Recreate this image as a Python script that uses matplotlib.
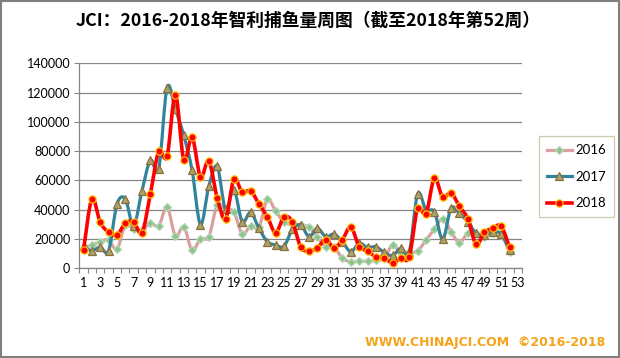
import matplotlib
matplotlib.use("Agg")
import matplotlib.pyplot as plt
from matplotlib.path import Path
from matplotlib.patches import PathPatch, Rectangle
from matplotlib.lines import Line2D
import numpy as np

plt.rcParams['font.family'] = ['Lato', 'Noto Sans CJK SC', 'DejaVu Sans']

title = "JCI：2016-2018年智利捕鱼量周图（截至2018年第52周）"
footer = "WWW.CHINAJCI.COM  ©2016-2018"
series_names = ["2016", "2017", "2018"]

weeks = list(range(1, 53))
y2016 = [14000, 16000, 18000, 19500, 13000, 29500, 26500, 26000, 30700, 29000,
         41800, 22000, 28400, 12300, 20300, 21400, 43000, 40000, 38500, 23500,
         28900, 28000, 47000, 39000, 31500, 30000, 29600, 28000, 21600, 14300,
         14300, 6800, 4400, 4800, 4800, 5500, 6800, 15900, 10600, 11000,
         11800, 19300, 26600, 34000, 25000, 17500, 23900, 23900, 21600, 23900,
         22700, 11300]
y2017 = [15000, 12000, 14500, 12000, 43700, 47300, 29100, 53000, 73700, 67800,
         123400, 108500, 90700, 66800, 29800, 56000, 69600, 40200, 53600, 31800,
         38200, 27300, 18200, 15900, 15000, 26500, 29600, 21600, 27300, 21600,
         23300, 18000, 11300, 17100, 14200, 14700, 10800, 8800, 13700, 11300,
         50700, 39800, 38600, 19800, 41000, 37500, 31800, 23900, 22700, 25000,
         23400, 12500]
y2018 = [12500, 47300, 31400, 24600, 22700, 30700, 31800, 24300, 50700, 80000,
         76500, 118600, 74100, 89400, 62500, 73300, 48100, 33700, 60800, 51900,
         53000, 43900, 35200, 24300, 35000, 31800, 14500, 11800, 14000, 19600,
         14000, 19500, 28200, 14800, 11900, 7700, 7100, 3600, 6800, 7900,
         41000, 37100, 61400, 48500, 51600, 42300, 33900, 16400, 24600, 27300,
         28900, 14300]

xtick_positions = list(range(1, 54, 2))
xtick_labels = [str(v) for v in xtick_positions]
ytick_values = [0, 20000, 40000, 60000, 80000, 100000, 120000, 140000]
ytick_labels = [str(v) for v in ytick_values]


def smooth_path(xs, ys):
    pts = np.column_stack([xs, ys]).astype(float)
    n = len(pts)
    verts = [tuple(pts[0])]
    codes = [Path.MOVETO]
    for i in range(n - 1):
        p0 = pts[max(i - 1, 0)]
        p1 = pts[i]
        p2 = pts[i + 1]
        p3 = pts[min(i + 2, n - 1)]
        c1 = p1 + (p2 - p0) / 6.0
        c2 = p2 - (p3 - p1) / 6.0
        verts += [tuple(c1), tuple(c2), tuple(p2)]
        codes += [Path.CURVE4] * 3
    return Path(verts, codes)


fig = plt.figure(figsize=(6.2, 3.58), dpi=100)
fig.patch.set_facecolor("white")
ax = fig.add_axes([0.128, 0.2506, 0.714, 0.5726])

styles = [
    dict(line="#D9A0A0", marker="D", mfc="#8CC38C", mec="#B5D9B5", ms=4.2, z=2, lw=2.3),
    dict(line="#31849B", marker="^", mfc="#A8A46A", mec="#8C6E3C", ms=5.2, z=3, lw=2.3),
    dict(line="#FF0000", marker="o", mfc="#FF0000", mec="#FFC000", ms=5.2, z=4, lw=2.6),
]
data = [y2016, y2017, y2018]
handles = []
for name, ys, st in zip(series_names, data, styles):
    patch = PathPatch(smooth_path(weeks, ys), fill=False, edgecolor=st["line"],
                      lw=st["lw"], capstyle="round", joinstyle="round", zorder=st["z"])
    ax.add_patch(patch)
    ax.plot(weeks, ys, linestyle="none", marker=st["marker"], ms=st["ms"],
            mfc=st["mfc"], mec=st["mec"], mew=0.9, zorder=st["z"] + 0.5)
    handles.append(Line2D([0], [0], color=st["line"], lw=st["lw"], marker=st["marker"],
                          ms=st["ms"], mfc=st["mfc"], mec=st["mec"], mew=0.9))

ax.set_xlim(0.5, 53.5)
ax.set_ylim(0, 140000)
ax.set_yticks(ytick_values)
ax.set_yticklabels(ytick_labels)
ax.set_xticks(xtick_positions)
ax.set_xticklabels(xtick_labels)
ax.set_xticks(np.arange(0.5, 54.0, 1.0), minor=True)
ax.tick_params(axis="x", which="major", length=0, pad=6, labelsize=9, colors="black")
ax.tick_params(axis="x", which="minor", length=3.5, color="#868686", width=0.8)
ax.tick_params(axis="y", which="major", length=3.5, color="#868686", width=0.8,
               pad=3, labelsize=9, labelcolor="black")
ax.yaxis.grid(True, color="#868686", lw=0.9)
ax.set_axisbelow(True)
for s in ["top", "right"]:
    ax.spines[s].set_visible(False)
for s in ["left", "bottom"]:
    ax.spines[s].set_color("#868686")
    ax.spines[s].set_linewidth(0.9)

fig.text(0.497, 0.943, title, ha="center", va="center", fontsize=12.8,
         fontweight="bold", family=["Noto Sans CJK SC", "DejaVu Sans"])

leg = fig.legend(handles, series_names, loc="center left",
                 bbox_to_anchor=(0.869, 0.506), fontsize=9.5, frameon=True,
                 fancybox=False, edgecolor="#C4BD97", handlelength=1.9,
                 labelspacing=1.1, borderpad=0.6, handletextpad=0.3,
                 borderaxespad=0)
leg.get_frame().set_linewidth(0.9)

fig.text(0.976, 0.042, footer, ha="right", va="center", fontsize=9,
         fontweight="bold", color="#F5A31A", family=["DejaVu Sans"])

fig.add_artist(Rectangle((0.001, 0.002), 0.997, 0.995, transform=fig.transFigure,
                         fill=False, edgecolor="#7F7F7F", lw=1.5))

fig.savefig("out.png", dpi=100)
